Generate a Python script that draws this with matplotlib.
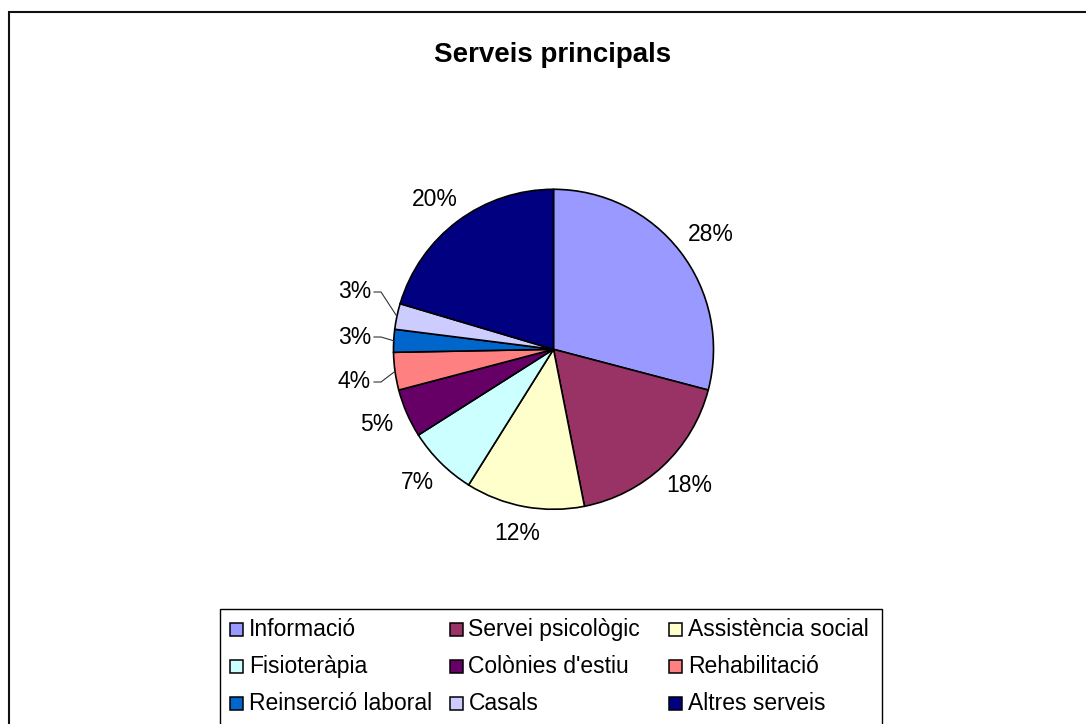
import numpy as np
import matplotlib
matplotlib.use('Agg')
import matplotlib.pyplot as plt
from matplotlib.patches import Rectangle

plt.rcParams['font.family'] = ['Liberation Sans', 'DejaVu Sans']

services = ['Informació', 'Servei psicològic', 'Assistència social', 'Fisioteràpia',
            "Colònies d'estiu", 'Rehabilitació', 'Reinserció laboral', 'Casals', 'Altres serveis']
shares = [29.1, 17.8, 12.0, 7.1, 4.9, 3.8, 2.3, 2.6, 20.4]
pct_labels = ['28%', '18%', '12%', '7%', '5%', '4%', '3%', '3%', '20%']
colors = ['#9999FF', '#993366', '#FFFFCC', '#CCFFFF', '#660066',
          '#FF8080', '#0066CC', '#CCCCFF', '#000080']

W, H = 1086, 724
fig = plt.figure(figsize=(W / 100, H / 100), dpi=100)
ax = fig.add_axes([0, 0, 1, 1])

cx, cy, R = 553.5, H - 349.3, 160
wedges, _ = ax.pie(shares, colors=colors, startangle=90, counterclock=False,
                   center=(cx, cy), radius=R,
                   wedgeprops=dict(edgecolor='black', linewidth=1.2))
ax.set_aspect('auto')
ax.set_xlim(0, W)
ax.set_ylim(0, H)
ax.axis('off')

# outer chart frame (only top and left edges are inside the picture)
ax.add_patch(Rectangle((9, -20), 1300, H - 11.7 + 20, fill=False,
                       edgecolor='#111111', linewidth=1.5))

ax.text(552.5, H - 61.7, 'Serveis principals', fontsize=20, fontweight='bold',
        ha='center', va='baseline')

# percentage labels
renderer = fig.canvas.get_renderer()
total = sum(shares)
cum = np.cumsum([0] + shares[:-1]) / total
# small slices get labels stacked on the left with leader lines
leader_y = {5: 382, 6: 337, 7: 292}
for i, (v, lab) in enumerate(zip(shares, pct_labels)):
    theta = np.deg2rad(90 - 360 * (cum[i] + v / total / 2))
    c, s = np.cos(theta), np.sin(theta)
    if i in leader_y:
        ly = H - leader_y[i]
        ax.text(371, ly, lab, fontsize=16.5, ha='right', va='center')
        ex, ey = cx + R * c, cy + R * s
        ax.plot([374, 381, ex], [ly, ly, ey], color='#333333', linewidth=0.8)
        continue
    r = 176
    t = ax.text(cx + r * c, cy + r * s, lab, fontsize=16.5, ha='center', va='center')
    bb = t.get_window_extent(renderer)
    t.set_position((cx + r * c + c * bb.width / 2, cy + r * s + s * bb.height / 2))

# legend box: 3 equal columns, filled row by row
ax.add_patch(Rectangle((220, -20), 662, H - 609 + 20, facecolor='white',
                       edgecolor='black', linewidth=1.0))
for k, (name, col) in enumerate(zip(services, colors)):
    row, column = divmod(k, 3)
    x0 = 230 + column * 219.5
    yc = H - (629.5 + row * 37)
    ax.add_patch(Rectangle((x0, yc - 6.5), 13, 13, facecolor=col,
                           edgecolor='black', linewidth=1.1))
    ax.text(x0 + 19, yc, name, fontsize=16.5, ha='left', va='center')

fig.savefig('out.png', dpi=100)
